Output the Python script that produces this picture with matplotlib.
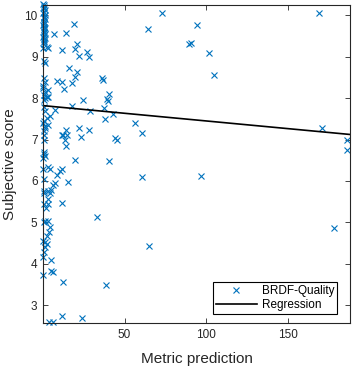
import numpy as np
import matplotlib.pyplot as plt

plt.rcParams['font.family'] = ['Liberation Sans', 'DejaVu Sans']

# 数据：度量预测值 (x) 与主观评分 (y)
metric = [
    # x≈0 附近的竖列
    0.2, 0.5, 0.8, 0.3, 1.0, 0.6, 0.2, 0.9, 0.4, 0.7, 1.2, 0.3, 0.5, 0.8,
    0.2, 0.6, 1.0, 0.4, 0.3, 0.7, 0.9, 0.5, 0.2, 1.1, 0.6, 0.4, 0.8, 0.3,
    0.2, 2.5, 3.3, 0.5, 1.2, 0.5, 1.0, 0.2, 0.2, 1.2, 3.3, 0.5, 2.3, 1.2,
    3.3, 0.6, 0.5, 1.2, 7.4, 2.3, 4.3, 0.2, 3.3, 1.2, 0.3, 0.8, 0.5, 0.5,
    1.0, 0.2, 0.2, 3.3, 4.3, 0.5, 0.5, 4.3, 0.5, 0.4, 0.5, 0.5, 1.2, 0.3,
    # 靠近竖列的低分区
    7.4, 6.3, 4.7, 3.3, 2.9, 3.3, 11.5, 1.8, 1.2, 3.3, 4.3, 3.9, 2.3, 1.2,
    11.5, 10.4, 8.4, 15.1, 0.2, 2.3, 0.6, 0.2, 4.7, 0.2, 4.7, 6.0, 12.5,
    11.8, 24.1, 3.7, 6.3, 1.2, 33.0, 38.7,
    # 中间区域
    6.9, 14.1, 19.0, 11.5, 20.7, 19.6, 22.3, 27.2, 28.2, 16.1, 20.7, 19.6,
    8.8, 11.5, 12.9, 17.6, 36.0, 36.6, 40.7, 39.0, 40.0, 24.7, 18.0, 37.4,
    28.8, 42.8, 38.0, 56.7, 14.1, 12.5, 14.5, 13.5, 14.1, 11.5, 22.3, 23.1,
    28.4, 44.2, 45.6, 19.6, 40.7, 61.0, 60.5, 96.9, 65.2,
    # 右侧离散点
    73.2, 64.6, 94.7, 89.8, 90.8, 102.0, 105.0, 169.0, 171.0, 186.7, 186.7,
    178.2,
]
score = [
    10.28, 10.25, 10.21, 10.17, 10.13, 10.07, 10.05, 10.0, 9.96, 9.94, 9.91,
    9.85, 9.83, 9.79, 9.77, 9.71, 9.69, 9.66, 9.61, 9.59, 9.54, 9.52, 9.47,
    9.45, 9.43, 9.38, 9.36, 9.3,
    9.2, 9.24, 9.2, 8.9, 8.84, 8.48, 8.4, 8.3, 8.24, 8.16, 8.2, 8.08, 8.02,
    8.0, 8.04, 7.96, 7.78, 7.68, 7.72, 7.52, 7.56, 7.4, 7.36, 7.28, 7.2, 7.1,
    6.98, 6.66, 6.6, 6.56, 6.28, 6.34, 6.3, 6.04, 5.72, 5.7, 5.44, 5.76,
    5.0, 7.45, 7.32, 6.7,
    5.96, 5.9, 5.78, 5.76, 5.56, 5.44, 5.47, 5.35, 5.04, 5.04, 4.88, 4.76,
    4.67, 4.52,
    6.3, 6.24, 6.14, 5.98, 4.56, 4.48, 4.28, 4.16, 4.08, 3.74, 3.83, 3.8,
    3.56, 2.75, 2.68, 2.59, 2.6, 4.4, 5.14, 3.5,
    9.54, 9.58, 9.78, 9.16, 9.32, 9.18, 9.02, 9.12, 9.0, 8.72, 8.62, 8.52,
    8.42, 8.38, 8.22, 8.36, 8.48, 8.44, 8.1, 7.98, 7.94, 7.96, 7.82, 7.76,
    7.7, 7.62, 7.5, 7.4, 7.24, 7.1, 7.12, 7.0, 6.84, 7.12, 7.28, 7.06,
    7.22, 7.04, 7.0, 6.5, 6.48, 7.16, 6.1, 6.12, 4.43,
    10.06, 9.68, 9.76, 9.32, 9.34, 9.1, 8.55, 10.06, 7.28, 6.99, 6.76,
    4.86,
]

# 回归直线（截距、斜率）
intercept = 7.82
slope = -0.0037

x_range = (0, 188.3)
y_range = (2.57, 10.25)

fig = plt.figure(figsize=(3.53, 3.70), dpi=100)
ax = fig.add_axes([0.122, 0.127, 0.8695, 0.8595])

blue = '#0072BD'
ax.plot(metric, score, 'x', color=blue, markersize=5, markeredgewidth=0.8,
        label='BRDF-Quality', clip_on=False)
xr = np.array(x_range)
ax.plot(xr, intercept + slope * xr, color='black', linewidth=1.2,
        label='Regression')

ax.set_xlim(x_range)
ax.set_ylim(y_range)
ax.set_xticks([50, 100, 150])
ax.set_yticks(range(3, 11))

ax.tick_params(direction='in', length=3.5, width=0.6, labelsize=8.5,
               top=True, right=True, colors='#262626', pad=4)
for s in ax.spines.values():
    s.set_color('#262626')
    s.set_linewidth(0.8)

ax.set_xlabel('Metric prediction', fontsize=11, color='#262626', labelpad=8)
ax.set_ylabel('Subjective score', fontsize=11, color='#262626', labelpad=5)

leg = ax.legend(loc='lower right', bbox_to_anchor=(0.958, 0.028),
                borderaxespad=0, fontsize=8.5, fancybox=False,
                edgecolor='black', framealpha=1, handlelength=3.5,
                handletextpad=0.4, borderpad=0.25, labelspacing=0.15)
leg.get_frame().set_linewidth(0.8)

plt.savefig('out.png', dpi=100)
